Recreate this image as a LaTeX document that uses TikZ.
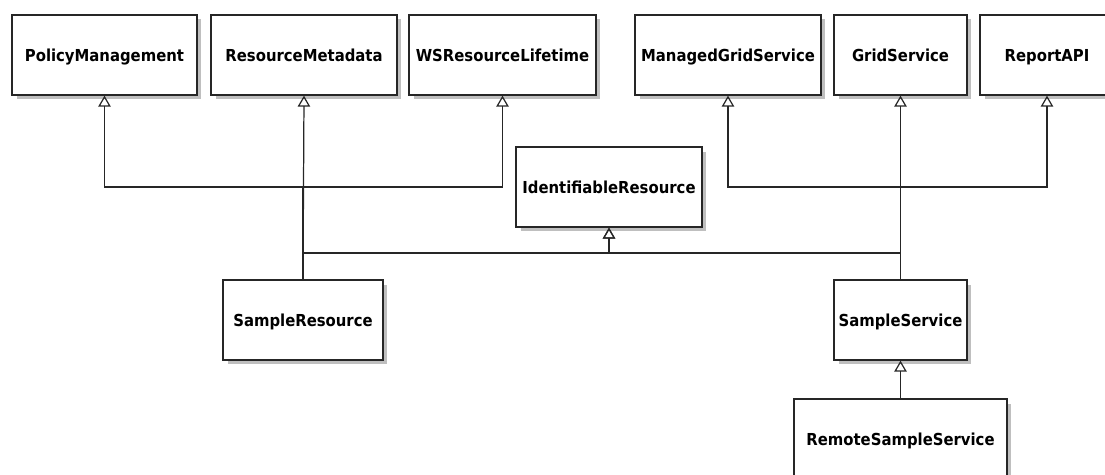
\documentclass[tikz,border=0pt]{standalone}
\usepackage{fontspec}
\setmainfont{DejaVu Sans Condensed}
\usetikzlibrary{arrows.meta,shadows}
\begin{document}
\begin{tikzpicture}[x=0.02cm,y=-0.02cm]
		\tikzstyle{classe}=[draw=black!85,line width=0.75pt,fill=white,minimum height=1.6cm,inner sep=0pt,text height=0.76em,text depth=0pt,font=\bfseries\fontsize{9.4}{11}\selectfont,drop shadow={shadow xshift=0.09cm,shadow yshift=-0.09cm,fill=black!25,opacity=1}]
		\tikzstyle{herite}=[-{Triangle[open,length=6.2pt,width=7pt]},line width=0.7pt,draw=black!85]
		
		\def\NiveauA{55}
		\def\NiveauB{187}
		\def\NiveauC{320}
		\def\NiveauD{439}
		\def\BusHaut{187}
		\def\BusBas{253}
		
		\useasboundingbox (0,0) rectangle (1105,475);
		
		\node[classe,minimum width=3.7cm] (PM) at (104.5,\NiveauA) {PolicyManagement};
		\node[classe,minimum width=3.72cm] (RM) at (304,\NiveauA) {ResourceMetadata};
		\node[classe,minimum width=3.74cm] (WSRL) at (502.5,\NiveauA) {WSResourceLifetime};
		\node[classe,minimum width=3.72cm] (MGS) at (728,\NiveauA) {ManagedGridService};
		\node[classe,minimum width=2.66cm] (GS) at (900.5,\NiveauA) {GridService};
		\node[classe,minimum width=2.68cm] (RAPI) at (1047,\NiveauA) {ReportAPI};
		\node[classe,minimum width=3.72cm] (IR) at (609,\NiveauB) {IdentifiableResource};
		\node[classe,minimum width=3.2cm] (SR) at (303,\NiveauC) {SampleResource};
		\node[classe,minimum width=2.66cm] (SS) at (900.5,\NiveauC) {SampleService};
		\node[classe,minimum width=4.26cm] (RSS) at (900.5,\NiveauD) {RemoteSampleService};
		
		\coordinate (busA) at (0,\BusHaut);
		\coordinate (busB) at (0,\BusBas);
		
		\draw[herite] (SR.north) -- (SR.north |- busA) -| (PM.south);
		\draw[herite] (SR.north) -- (RM.south);
		\draw[herite] (SR.north) -- (SR.north |- busA) -| (WSRL.south);
		\draw[herite] (SR.north) -- (SR.north |- busB) -| (IR.south);
		\draw[herite] (SS.north) -- (SS.north |- busB) -| (IR.south);
		\draw[herite] (SS.north) -- (SS.north |- busA) -| (MGS.south);
		\draw[herite] (SS.north) -- (GS.south);
		\draw[herite] (SS.north) -- (SS.north |- busA) -| (RAPI.south);
		\draw[herite] (RSS.north) -- (SS.south);
	\end{tikzpicture}
\end{document}
